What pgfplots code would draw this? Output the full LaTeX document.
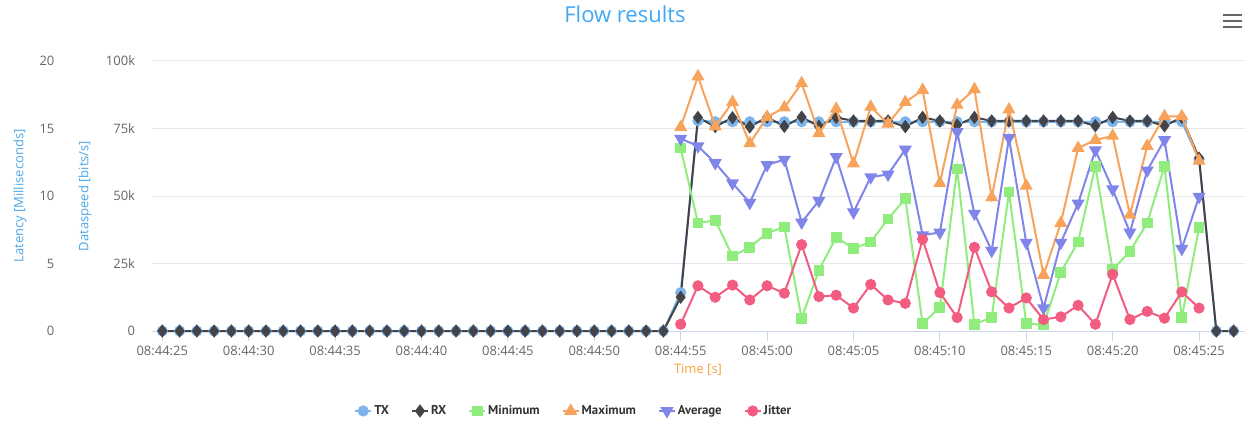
\documentclass[border=0pt]{standalone}
\usepackage{fontspec}
\setmainfont{Open Sans}
\newfontfamily\legendfont{PT Sans}
\usepackage{pgfplots}
\usepackage{pgfplotstable}
\pgfplotsset{compat=1.18}

\definecolor{txc}{HTML}{7CB5EC}
\definecolor{rxc}{HTML}{434348}
\definecolor{minc}{HTML}{90ED7D}
\definecolor{maxc}{HTML}{F7A35C}
\definecolor{avgc}{HTML}{8085E9}
\definecolor{jitc}{HTML}{F15C80}
\definecolor{gridc}{HTML}{E6E6E6}
\definecolor{axisc}{HTML}{CCD6EB}
\definecolor{tickc}{HTML}{666666}
\definecolor{titlec}{HTML}{3FA9F5}
\definecolor{ylabc}{HTML}{4EA7E6}
\definecolor{xlabc}{HTML}{F7A040}

% seconds after 08:44:25, bits/s
\pgfplotstableread{
t tx rx
0 0 0
1 0 0
2 0 0
3 0 0
4 0 0
5 0 0
6 0 0
7 0 0
8 0 0
9 0 0
10 0 0
11 0 0
12 0 0
13 0 0
14 0 0
15 0 0
16 0 0
17 0 0
18 0 0
19 0 0
20 0 0
21 0 0
22 0 0
23 0 0
24 0 0
25 0 0
26 0 0
27 0 0
28 0 0
29 0 0
30 14200 12500
31 77900 79100
32 77500 75700
33 77500 79000
34 77500 75600
35 77500 79200
36 77500 75800
37 77500 79200
38 77500 75800
39 77500 79100
40 77500 77800
41 77500 77800
42 77500 77800
43 77500 75700
44 77500 79100
45 77500 77800
46 77500 76300
47 77500 79100
48 77500 77800
49 77500 77800
50 77500 77800
51 77500 77800
52 77500 77800
53 77500 77800
54 77500 76000
55 77500 79100
56 77500 77800
57 77500 77800
58 77500 76000
59 77500 79100
60 63500 64000
61 0 0
62 0 0
}\speed

% latency, ms
\pgfplotstableread{
t min max avg jit
30 13.55 15.1 14.25 0.5
31 8.0 18.85 13.7 3.35
32 8.2 15.15 12.45 2.5
33 5.55 16.95 10.95 3.4
34 6.2 13.9 9.5 2.3
35 7.25 15.85 12.3 3.35
36 7.7 16.55 12.7 2.8
37 0.95 18.35 8.05 6.4
38 4.5 14.65 9.65 2.55
39 6.95 16.45 12.9 2.65
40 6.1 12.4 8.8 1.7
41 6.6 16.6 11.4 3.45
42 8.3 15.35 11.6 2.3
43 9.8 16.95 13.45 2.05
44 0.55 17.85 7.1 6.8
45 1.75 10.95 7.3 2.85
46 12.0 16.75 14.75 1.0
47 0.5 17.9 8.7 6.2
48 1.0 9.9 5.95 2.9
49 10.3 16.4 14.3 1.7
50 0.55 10.75 6.55 2.45
51 0.45 4.15 1.7 0.85
52 4.35 8.0 6.55 1.05
53 6.6 13.55 9.45 1.9
54 12.2 14.15 13.4 0.5
55 4.55 14.45 10.5 4.2
56 5.9 8.6 7.3 0.85
57 8.0 13.7 11.9 1.45
58 12.2 15.9 14.15 0.95
59 1.0 15.9 6.1 2.9
60 7.65 12.6 9.95 1.7
}\latency

\pgfplotsset{
  base/.style={
    at={(114pt,76.5pt)}, anchor=south west,
    scale only axis, width=819.75pt, height=202.5pt,
    xmin=-0.596, xmax=62.66, ymin=0,
    clip=false,
    scaled y ticks=false,
    /pgf/number format/assume math mode=true,
    ticklabel style={font=\fontsize{9.75}{11}\selectfont, text=tickc},
    y axis line style={draw=none},
    ytick style={draw=none},
  },
  ser/.style={color=#1, line width=1.5pt, mark options={fill=#1, draw=#1, solid}},
  txs/.style={ser=txc, mark=*, mark size=3.4pt},
  rxs/.style={ser=rxc, mark=diamond*, mark size=3.8pt},
  mins/.style={ser=minc, mark=square*, mark size=3.3pt},
  maxs/.style={ser=maxc, mark=triangle*, mark size=4.2pt},
  avgs/.style={ser=avgc, mark=triangle*, mark size=4.2pt, mark options={rotate=180}},
  jits/.style={ser=jitc, mark=*, mark size=3.4pt},
}

\begin{document}
\begin{tikzpicture}
\useasboundingbox (0,0) rectangle (936pt,324.75pt);

\begin{axis}[base,
  ymax=100000,
  axis x line*=bottom, axis y line*=left,
  x axis line style={draw=axisc, line width=0.75pt},
  xtick={0,5,...,60},
  xticklabels={08:44:25,08:44:30,08:44:35,08:44:40,08:44:45,08:44:50,08:44:55,08:45:00,08:45:05,08:45:10,08:45:15,08:45:20,08:45:25},
  xtick style={draw=axisc, line width=0.75pt},
  tick align=outside, major tick length=7.5pt,
  ytick={0,25000,50000,75000,100000},
  yticklabels={0,25k,50k,75k,100k},
  yticklabel style={anchor=east, inner sep=0pt, xshift=-5pt},
  ymajorgrids, grid style={draw=gridc, line width=0.75pt},
]
\addplot[txs] table[x=t, y=tx] {\speed};
\addplot[rxs] table[x=t, y=rx] {\speed};
\end{axis}

\begin{axis}[base,
  ymax=20,
  hide x axis,
  axis y line*=left,
  ytick={0,5,10,15,20},
  yticklabel style={anchor=east, inner sep=0pt, xshift=-73pt},
  legend columns=6,
  legend style={at={(0.1848,-0.2963)}, anchor=west, draw=none, fill=none,
    inner sep=0pt, font=\legendfont\bfseries\fontsize{9.6}{11}\selectfont, text=black!80,
    /tikz/every even column/.append style={column sep=15pt},
    nodes={inner sep=1.5pt}},
  legend image code/.code={\draw[mark repeat=2,mark phase=2] plot coordinates {(0pt,0pt)(6pt,0pt)(12pt,0pt)};},
]
\addlegendimage{txs}\addlegendentry{TX}
\addlegendimage{rxs}\addlegendentry{RX}
\addplot[mins] table[x=t, y=min] {\latency};\addlegendentry{Minimum}
\addplot[maxs] table[x=t, y=max] {\latency};\addlegendentry{Maximum}
\addplot[avgs] table[x=t, y=avg] {\latency};\addlegendentry{Average}
\addplot[jits] table[x=t, y=jit] {\latency};\addlegendentry{Jitter}
\end{axis}

\node[text=titlec, font=\fontsize{16.5}{20}\selectfont] at (468.75pt,314.25pt) {Flow results};
\node[text=ylabc, rotate=90, font=\fontsize{9.75}{11}\selectfont] at (15pt,177.75pt) {Latency [Milliseconds]};
\node[text=ylabc, rotate=90, font=\fontsize{9.75}{11}\selectfont] at (63.75pt,177.75pt) {Dataspeed [bits/s]};
\node[text=xlabc, font=\fontsize{9.75}{11}\selectfont] at (523.5pt,47.25pt) {Time [s]};
\foreach \yy in {313.5,309,304.5}
  \draw[tickc, line width=1.6pt] (917.25pt,\yy pt) -- (931.5pt,\yy pt);
\end{tikzpicture}
\end{document}
